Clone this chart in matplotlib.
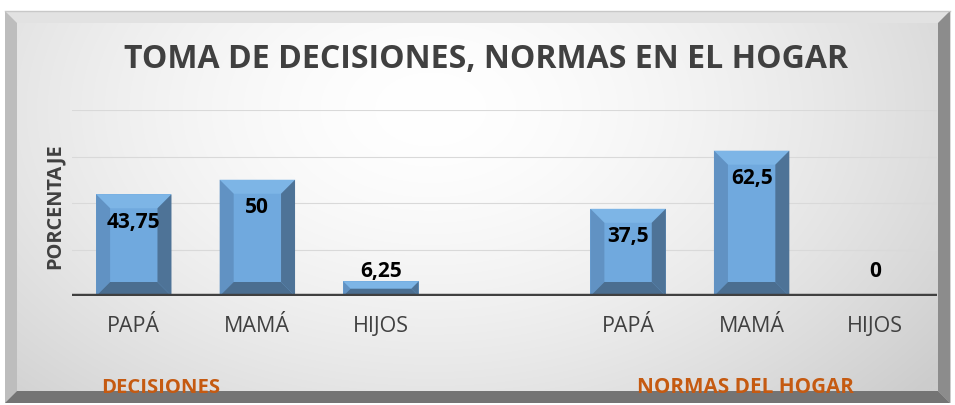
import numpy as np
import matplotlib
matplotlib.use("Agg")
import matplotlib.pyplot as plt
from matplotlib.patches import Polygon, Rectangle

plt.rcParams['font.family'] = ['Open Sans', 'DejaVu Sans']

# ---------------- data ----------------
members = ["PAPÁ", "MAMÁ", "HIJOS"]
decisiones_values = [43.75, 50, 6.25]
normas_values = [37.5, 62.5, 0]
group_names = ["DECISIONES", "NORMAS DEL HOGAR"]
title_text = "TOMA DE DECISIONES, NORMAS EN EL HOGAR"
ylabel_text = "PORCENTAJE"
y_max = 80
y_step = 20

W, H = 955, 406
fig = plt.figure(figsize=(W / 100, H / 100), dpi=100)

# ---------------- background frame (decoration) ----------------
bg = fig.add_axes([0, 0, 1, 1], zorder=0)
bg.set_xlim(0, W)
bg.set_ylim(H, 0)
bg.axis('off')

fx0, fx1, fy0, fy1 = 5, 950, 12, 404
bev = 12
# gradient face
nx, ny = 400, 200
gx = np.linspace(0, 1, nx)[None, :]
gy = np.linspace(0, 1, ny)[:, None]
cx, cy = 0.45, 0.25
d = np.sqrt(((gx - cx) / 0.62) ** 2 + ((gy - cy) / 1.0) ** 2)
light = 1.0 - 0.17 * np.clip(d, 0, 1.2) ** 1.6
light = np.clip(light, 0.80, 1.0)
img = np.dstack([light, light, light])
bg.imshow(img, extent=[fx0, fx1, fy1, fy0], aspect='auto', zorder=1, interpolation='bilinear')

# bevels
bg.add_patch(Polygon([[fx0, fy0], [fx1, fy0], [fx1 - bev, fy0 + bev], [fx0 + bev, fy0 + bev]],
                     closed=True, fc='#e2e2e2', ec='none', zorder=2))
bg.add_patch(Polygon([[fx0, fy0], [fx0 + bev, fy0 + bev], [fx0 + bev, fy1 - bev], [fx0, fy1]],
                     closed=True, fc='#bdbdbd', ec='none', zorder=2))
bg.add_patch(Polygon([[fx1, fy0], [fx1, fy1], [fx1 - bev, fy1 - bev], [fx1 - bev, fy0 + bev]],
                     closed=True, fc='#8c8c8c', ec='none', zorder=2))
bg.add_patch(Polygon([[fx0, fy1], [fx0 + bev, fy1 - bev], [fx1 - bev, fy1 - bev], [fx1, fy1]],
                     closed=True, fc='#747474', ec='none', zorder=2))
bg.plot([fx0, fx1], [fy0, fy0], color='#c8c8c8', lw=1, zorder=3)

# ---------------- main axes ----------------
ax_l, ax_r, ax_t, ax_b = 72, 937, 111, 297
ax = fig.add_axes([ax_l / W, 1 - ax_b / H, (ax_r - ax_l) / W, (ax_b - ax_t) / H], zorder=2)
ax.patch.set_alpha(0)

values = decisiones_values + [np.nan] + normas_values
labels = members + [""] + members
x = np.arange(len(values))
ax.set_xlim(-0.5, len(values) - 0.5)
ax.set_ylim(0, y_max)

for s in ax.spines.values():
    s.set_visible(False)
ax.set_yticks(np.arange(y_step, y_max + 1, y_step))
ax.set_yticklabels([])
ax.tick_params(axis='y', length=0)
ax.grid(axis='y', color='#d9d9d9', lw=0.8, zorder=0)
ax.set_axisbelow(True)
ax.axhline(0, color='#404040', lw=3.2, zorder=5)

ax.set_xticks(x)
ax.set_xticklabels(labels, fontsize=15.5, color='#404040')
ax.tick_params(axis='x', length=0, pad=14)

bar_w = 0.61
bars = ax.bar(x, np.nan_to_num(values), width=bar_w, color='#70a9de', edgecolor='none', zorder=3)

# bevel sizes in data units (14 px)
px_per_x = (ax_r - ax_l) / (len(values))
px_per_y = (ax_b - ax_t) / y_max
bev_px = 14
bx = bev_px / px_per_x
by_full = bev_px / px_per_y

for rect, v in zip(bars.patches, values):
    if not np.isfinite(v) or v <= 0:
        continue
    x0 = rect.get_x()
    x1 = x0 + rect.get_width()
    y0 = 0
    y1 = rect.get_height()
    by = min(by_full, (y1 - y0) / 2)
    bxx = bx if by == by_full else min(bx, by * px_per_y / px_per_x)
    ix0, ix1, iy0, iy1 = x0 + bxx, x1 - bxx, y0 + by, y1 - by
    ax.add_patch(Polygon([[x0, y1], [x1, y1], [ix1, iy1], [ix0, iy1]], closed=True,
                         fc='#7db5e6', ec='none', zorder=4))
    ax.add_patch(Polygon([[x0, y0], [x0, y1], [ix0, iy1], [ix0, iy0]], closed=True,
                         fc='#6192c3', ec='none', zorder=4))
    ax.add_patch(Polygon([[x1, y0], [x1, y1], [ix1, iy1], [ix1, iy0]], closed=True,
                         fc='#4e7397', ec='none', zorder=4))
    ax.add_patch(Polygon([[x0, y0], [x1, y0], [ix1, iy0], [ix0, iy0]], closed=True,
                         fc='#4b6e90', ec='none', zorder=4))

# value labels
for xi, v in zip(x, values):
    if not np.isfinite(v):
        continue
    txt = f"{v:g}".replace('.', ',')
    if v >= 20:
        ax.annotate(txt, (xi, v), xytext=(0, -19.5), textcoords='offset points',
                    ha='center', va='center', fontsize=15, fontweight='bold', color='black', zorder=6)
    else:
        ax.annotate(txt, (xi, 0), xytext=(0, 18.5), textcoords='offset points',
                    ha='center', va='center', fontsize=15, fontweight='bold', color='black', zorder=6)

# ---------------- texts ----------------
fig.text(486 / W, 1 - 68 / H, title_text, ha='center', va='baseline', fontsize=23,
         fontweight='bold', color='#404040', zorder=5)
fig.text(55 / W, 1 - 206 / H, ylabel_text, rotation=90, ha='center', va='center', fontsize=14.4,
         fontweight='bold', color='#404040', zorder=5)
fig.text(161 / W, 1 - 393 / H, group_names[0], ha='center', va='baseline', fontsize=14.6,
         fontweight='bold', color='#c55a11', zorder=5)
fig.text(745 / W, 1 - 393 / H, group_names[1], ha='center', va='baseline', fontsize=14.9,
         fontweight='bold', color='#c55a11', zorder=5)

fig.savefig("out.png", dpi=100)
